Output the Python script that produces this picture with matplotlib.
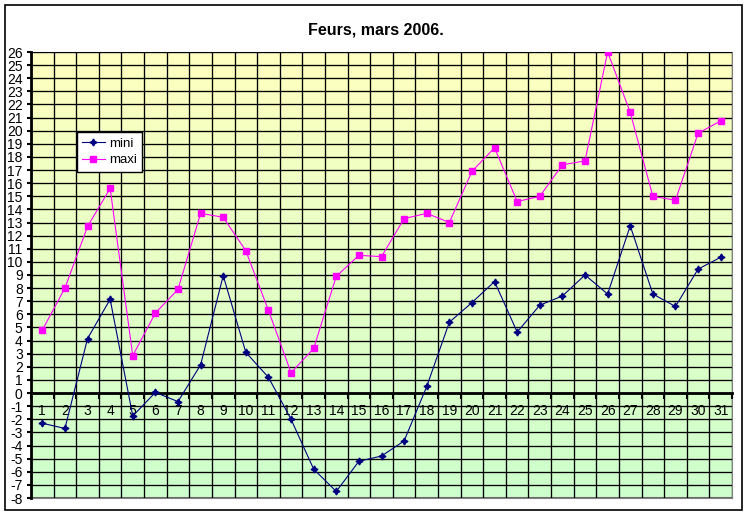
import numpy as np
import matplotlib
matplotlib.use("Agg")
import matplotlib.pyplot as plt
from matplotlib.colors import LinearSegmentedColormap
from matplotlib.patches import Rectangle

plt.rcParams['font.family'] = ['Liberation Sans', 'DejaVu Sans']
plt.rcParams['axes.unicode_minus'] = False

# températures relevées à Feurs, mars 2006
jours = list(range(1, 32))
mini = [-2.3, -2.7, 4.15, 7.15, -1.75, 0.05, -0.65, 2.15, 8.95, 3.1,
        1.2, -2.0, -5.8, -7.5, -5.2, -4.8, -3.65, 0.5, 5.4, 6.9,
        8.5, 4.65, 6.7, 7.4, 9.0, 7.55, 12.75, 7.55, 6.6, 9.45, 10.35]
maxi = [4.8, 8.0, 12.7, 15.6, 2.85, 6.1, 7.9, 13.7, 13.4, 10.85,
        6.3, 1.55, 3.4, 8.9, 10.5, 10.4, 13.3, 13.7, 13.0, 16.9,
        18.7, 14.6, 15.0, 17.4, 17.7, 26.0, 21.4, 15.0, 14.7, 19.8, 20.75]
ymin, ymax = -8, 26

fig = plt.figure(figsize=(7.51, 5.15), dpi=100)
ax = fig.add_axes([31 / 751, 1 - 498 / 515, 701 / 751, 446 / 515])

# fond dégradé jaune -> vert
cmap = LinearSegmentedColormap.from_list('fond', ['#ccffcc', '#ffffc0'])
grad = np.linspace(0, 1, 256).reshape(-1, 1)
ax.imshow(grad, cmap=cmap, origin='lower', aspect='auto',
          extent=[0.5, len(jours) + 0.5, ymin, ymax], zorder=0)

ax.plot(jours, mini, color='#000080', lw=0.8, marker=(4, 1, 0), ms=5,
        label='mini', zorder=3)
ax.plot(jours, maxi, color='#ff00ff', lw=0.8, marker='s', ms=3.8,
        label='maxi', zorder=3)

ax.set_xlim(0.5, len(jours) + 0.5)
ax.set_ylim(ymin, ymax)

ax.set_yticks(range(ymin, ymax + 1))
ax.set_xticks(jours)
ax.set_xticks(np.arange(0.5, len(jours) + 1, 1), minor=True)
ax.set_xticklabels([str(j) for j in jours], fontweight='bold', fontsize=11)
ax.tick_params(axis='x', which='major', length=0, pad=8)
ax.tick_params(axis='x', which='minor', length=4, width=1.5, direction='out')
ax.tick_params(axis='y', which='major', length=3, width=1.5, pad=3, labelsize=10)

ax.set_axisbelow(False)
ax.grid(True, axis='y', which='major', color='black', lw=0.95)
ax.grid(True, axis='x', which='minor', color='black', lw=0.95)

ax.spines['bottom'].set_position(('data', 0))
ax.spines['bottom'].set_linewidth(2)
ax.spines['left'].set_linewidth(2)
ax.spines['top'].set_color('#808080')
ax.spines['right'].set_color('#808080')
ax.axhline(ymin, color='#808080', lw=1.5, clip_on=False, zorder=2)

leg = ax.legend(loc='upper left', bbox_to_anchor=(77 / 751, 1 - 132 / 515),
                bbox_transform=fig.transFigure, borderaxespad=0, fancybox=False,
                edgecolor='black', framealpha=1, fontsize=9.5, handlelength=1.7,
                handletextpad=0.3, labelspacing=0.35, borderpad=0.4)
leg.get_frame().set_linewidth(1)
leg.set_zorder(5)

fig.text(376 / 751, 1 - 30 / 515, 'Feurs, mars 2006.', ha='center', va='center',
         fontsize=11.5, fontweight='bold')

fig.patches.append(Rectangle((5 / 751, 1 - 510 / 515), 737 / 751, 505 / 515,
                             transform=fig.transFigure, fill=False,
                             edgecolor='black', lw=1.2))

fig.savefig('out.png', dpi=100)
